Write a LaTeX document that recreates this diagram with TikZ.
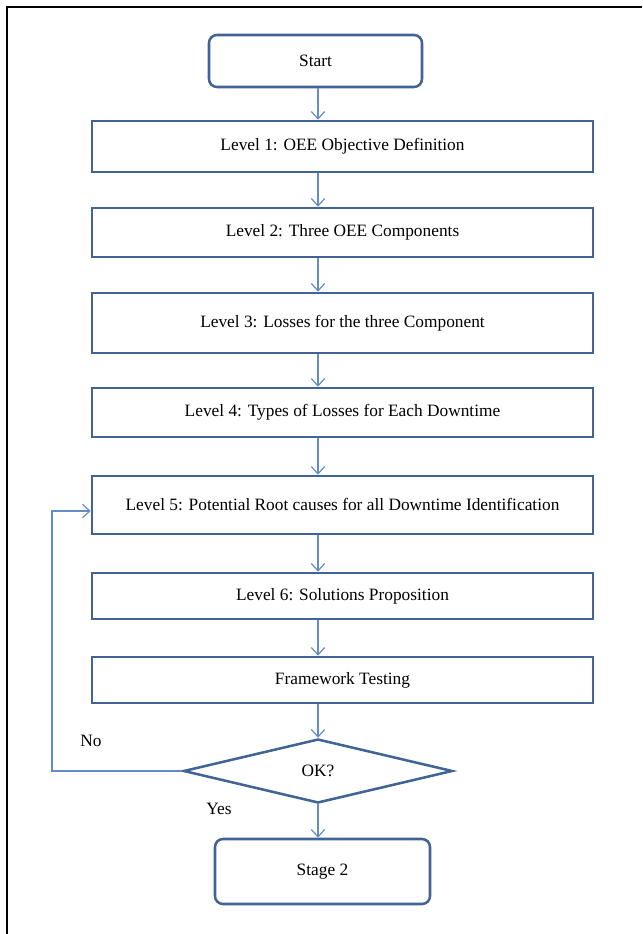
\documentclass[tikz,border=0pt]{standalone}
\usepackage{fontspec}
\setmainfont{Liberation Serif}
\usetikzlibrary{arrows.meta,shapes.geometric}
\definecolor{boxblue}{RGB}{64,100,150}
\definecolor{arrblue}{RGB}{100,140,200}
\begin{document}
\begin{tikzpicture}[x=0.75pt,y=-0.75pt,
  font=\fontsize{13}{15}\selectfont,
  lvl/.style={draw=boxblue,line width=1.9pt,rectangle,inner sep=0pt,
    minimum width={501*0.75pt}},
  term/.style={draw=boxblue,line width=1.9pt,rectangle,rounded corners=6pt,inner sep=0pt,
    minimum width={213*0.75pt},minimum height={52*0.75pt}},
  decision/.style={draw=boxblue,line width=1.9pt,diamond,inner sep=0pt,
    minimum width={269*0.75pt},minimum height={64*0.75pt}},
  flow/.style={draw=arrblue,line width=0.9pt,-{Straight Barb[length=5.5pt,width=10pt]}},
  lbl/.style={inner sep=0pt}]
\useasboundingbox (0,0) rectangle (642,934);
\draw[line width=1.8pt] (7,934) -- (7,7) -- (642,7);
\node[term] (start) at (315.5,61) {Start};
\node[lvl,minimum height={51*0.75pt}] (l1) at (342.5,146.5) {Level 1: OEE Objective Definition};
\node[lvl,minimum height={49*0.75pt}] (l2) at (342.5,232.5) {Level 2: Three OEE Components};
\node[lvl,minimum height={60*0.75pt}] (l3) at (342.5,323) {Level 3: Losses for the three Component};
\node[lvl,minimum height={49*0.75pt}] (l4) at (342.5,412.5) {Level 4: Types of Losses for Each Downtime};
\node[lvl,minimum height={58*0.75pt}] (l5) at (342.5,505) {Level 5: Potential Root causes for all Downtime Identification};
\node[lvl,minimum height={46*0.75pt}] (l6) at (342.5,596) {Level 6: Solutions Proposition};
\node[lvl,minimum height={46*0.75pt}] (ft) at (342.5,680) {Framework Testing};
\node[decision] (ok) at (318,771) {OK?};
\node[term,minimum width={215*0.75pt},minimum height={65*0.75pt}] (s2) at (322.5,871.5) {Stage 2};
\node[lbl] (no) at (91,741) {No};
\node[lbl] (yes) at (219,809) {Yes};
\coordinate (lb) at (52,771);
\coordinate (lt) at (52,511);
\draw[flow] (start.south -| 318,0) -- (l1.north -| 318,0);
\draw[flow] (l1.south -| 318,0) -- (l2.north -| 318,0);
\draw[flow] (l2.south -| 318,0) -- (l3.north -| 318,0);
\draw[flow] (l3.south -| 318,0) -- (l4.north -| 318,0);
\draw[flow] (l4.south -| 318,0) -- (l5.north -| 318,0);
\draw[flow] (l5.south -| 318,0) -- (l6.north -| 318,0);
\draw[flow] (l6.south -| 318,0) -- (ft.north -| 318,0);
\draw[flow] (ft.south -| 318,0) -- (ok.north);
\draw[flow] (ok.south) -- (s2.north -| ok.south);
\draw[flow] (ok.west) -- (lb) -- (lt) -- (l5.west |- lt);
\end{tikzpicture}
\end{document}
